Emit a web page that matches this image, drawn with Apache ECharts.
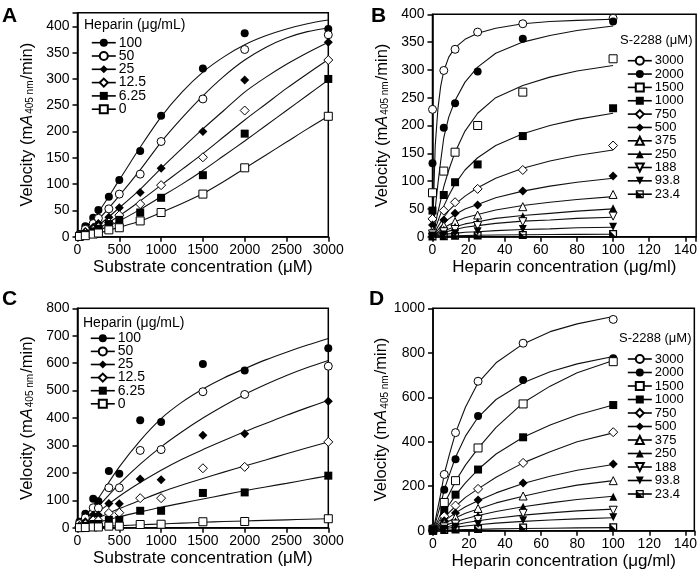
<!DOCTYPE html>
<html><head><meta charset="utf-8">
<script src="https://cdn.jsdelivr.net/npm/echarts/dist/echarts.min.js"></script>
<style>html,body{margin:0;padding:0;background:#fff}#c{width:700px;height:572px}</style>
</head><body><div id="c"></div><script>
// ---------- DATA ----------
// Panels A / C : x = substrate concentration (µM)
const substrateX = [23.4, 93.8, 188, 250, 375, 500, 750, 1000, 1500, 2000, 3000];
const heparinNames = ['100', '50', '25', '12.5', '6.25', '0'];
const A_v100 = [5, 20, 36, 51, 76, 108, 163, 230, 320, 387, 395];
const A_v50 = [3, 14, 25, 35, 53, 81, 119, 181, 262, 356, 384];
const A_v25 = [2, 10, 18, 25, 37, 55, 84, 130, 200, 298, 370];
const A_v12_5 = [1, 7, 13, 18, 27, 41, 62, 98, 151, 240, 336];
const A_v6_25 = [1, 5, 10, 15, 24, 32, 46, 74, 117, 196, 300];
const A_v0 = [0.5, 2, 5, 7, 13, 17, 30, 46, 81, 131, 229];
// fitted curves read at every 250 µM
const curveSubX = [0, 250, 500, 750, 1000, 1250, 1500, 1750, 2000, 2250, 2500, 2750, 3000];
const A_c100 = [0, 47, 108, 170, 228, 275, 313, 342, 365, 382, 395, 405, 412];
const A_c50 = [0, 33, 78, 127, 180, 226, 268, 305, 336, 360, 378, 390, 397];
const A_c25 = [0, 22, 55, 90, 130, 168, 205, 240, 275, 303, 328, 350, 370];
const A_c12_5 = [0, 16, 40, 68, 98, 128, 158, 190, 222, 252, 282, 310, 337];
const A_c6_25 = [0, 12, 30, 52, 76, 100, 126, 154, 182, 211, 240, 269, 298];
const A_c0 = [0, 7, 18, 30, 46, 63, 82, 105, 130, 155, 180, 205, 229];

const C_v100 = [22, 51, 106, 97, 207, 197, 392, 386, 597, 573, 654];
const C_v50 = [15, 36, 73, 72, 146, 146, 282, 285, 496, 486, 589];
const C_v25 = [8, 22, 47, 47, 89, 88, 178, 175, 337, 343, 461];
const C_v12_5 = [5, 13, 27, 27, 54, 55, 108, 108, 217, 222, 313];
const C_v6_25 = [3, 7, 14, 14, 29, 29, 62, 62, 127, 129, 190];
const C_v0 = [0.5, 1, 3, 3, 6, 6, 12, 13, 22, 23, 33];
const C_c100 = [0, 108, 222, 318, 398, 458, 506, 546, 580, 612, 640, 666, 690];
const C_c50 = [0, 78, 160, 232, 295, 350, 400, 445, 486, 522, 555, 584, 610];
const C_c25 = [0, 58, 115, 165, 210, 250, 285, 318, 350, 380, 410, 438, 465];
const C_c12_5 = [0, 36, 70, 100, 130, 156, 180, 203, 225, 247, 270, 292, 313];
const C_c6_25 = [0, 20, 40, 58, 75, 90, 105, 120, 135, 149, 162, 176, 190];
const C_c0 = [0, 4, 8, 11, 14, 17, 20, 23, 25, 27, 29, 31, 33];

// Panels B / D : x = heparin concentration (µg/ml)
const heparinX = [0, 6.25, 12.5, 25, 50, 100];
const s2288Names = ['3000', '2000', '1500', '1000', '750', '500', '375', '250', '188', '93.8', '23.4'];
const B_vals = [
  [229, 299, 337, 368, 383, 393],
  [132, 196, 240, 297, 356, 387],
  [79, 118, 152, 200, 260, 320],
  [47, 75, 98, 130, 181, 231],
  [32, 47, 62, 86, 120, 164],
  [21, 30, 42, 57, 82, 109],
  [12, 20, 27, 39, 54, 76],
  [8, 13, 18, 27, 37, 51],
  [5, 9, 13, 20, 27, 37],
  [2, 4, 6, 10, 14, 18],
  [0.5, 1, 1.5, 2, 3, 5]
];
// fitted curves read at these heparin concentrations
const curveHepX = [0, 1.5, 3, 4.5, 6.25, 9, 12.5, 18, 25, 35, 50, 65, 80, 100];
const B_curves = [
  [0, 163, 230, 270, 298, 323, 340, 355, 366, 375, 383, 387, 389, 391],
  [0, 50, 95, 135, 178, 215, 245, 278, 305, 330, 350, 362, 371, 379],
  [0, 22, 44, 65, 90, 120, 152, 190, 222, 250, 272, 287, 298, 308],
  [0, 14, 28, 41, 55, 74, 95, 120, 142, 164, 185, 200, 211, 222],
  [0, 9, 18, 26, 35, 47, 58, 73, 88, 105, 123, 136, 146, 156],
  [0, 6, 12, 18, 24, 32, 40, 50, 58, 70, 82, 91, 98, 105],
  [0, 4, 8, 12, 16, 21, 27, 34, 40, 48, 56, 62, 67, 72],
  [0, 3, 6, 8, 11, 14, 18, 23, 27, 33, 38, 42, 46, 50],
  [0, 2, 4, 6, 8, 10, 13, 17, 20, 24, 28, 30, 33, 35],
  [0, 1, 2, 3, 4, 5, 6, 8, 9, 11, 13, 14, 16, 17],
  [0, 0.3, 0.5, 0.8, 1, 1.2, 1.5, 2, 2.5, 3, 3.5, 4, 4.2, 4.5]
];
const D_vals = [
  [10, 253, 441, 672, 843, 950],
  [8, 184, 321, 516, 678, 775],
  [6, 127, 225, 372, 570, 760],
  [5, 90, 162, 275, 420, 565],
  [4, 65, 113, 188, 305, 443],
  [3, 45, 80, 138, 215, 300],
  [2, 33, 60, 100, 156, 225],
  [2, 24, 42, 70, 108, 153],
  [1, 17, 30, 50, 78, 92],
  [1, 9, 18, 30, 47, 60],
  [0, 3, 5, 8, 14, 16]
];
const D_curves = [
  [0, 55, 115, 175, 255, 340, 440, 555, 665, 755, 840, 895, 930, 963],
  [0, 40, 82, 125, 185, 250, 330, 425, 510, 590, 665, 715, 750, 783],
  [0, 25, 52, 82, 122, 165, 222, 295, 370, 465, 575, 650, 710, 765],
  [0, 19, 38, 58, 88, 118, 160, 215, 275, 345, 420, 475, 520, 565],
  [0, 13, 27, 41, 60, 82, 110, 150, 188, 240, 305, 355, 400, 440],
  [0, 10, 20, 30, 44, 60, 80, 108, 135, 170, 212, 245, 272, 298],
  [0, 7, 15, 22, 32, 44, 58, 78, 98, 125, 155, 182, 205, 225],
  [0, 5, 10, 15, 22, 30, 40, 54, 68, 86, 108, 125, 140, 155],
  [0, 3.5, 7, 10, 15, 20, 27, 36, 45, 56, 70, 80, 89, 97],
  [0, 2, 4, 6, 9, 12, 16, 21, 27, 34, 42, 48, 53, 58],
  [0, 0.5, 1, 1.5, 2, 3, 4, 5, 6, 8, 10, 11, 12.5, 14]
];

// ---------- STYLE ----------
const FONT = '"Liberation Sans", Arial, Helvetica, sans-serif';
const HALF_SQ = 'path://M0,0 L10,0 L10,10 L0,10 Z M1.6,1.6 L1.6,8.4 L8.4,8.4 L8.4,1.6 Z M1.6,8.4 L1.6,1.6 L8.4,8.4 Z';
const hepSym = [
  {symbol: 'circle', size: 8, open: false},
  {symbol: 'circle', size: 8, open: true},
  {symbol: 'diamond', size: 9, open: false},
  {symbol: 'diamond', size: 9, open: true},
  {symbol: 'rect', size: 8, open: false},
  {symbol: 'rect', size: 8, open: true}
];
const sSym = [
  {symbol: 'circle', size: 8, open: true},
  {symbol: 'circle', size: 8, open: false},
  {symbol: 'rect', size: 8, open: true},
  {symbol: 'rect', size: 8, open: false},
  {symbol: 'diamond', size: 9, open: true},
  {symbol: 'diamond', size: 9, open: false},
  {symbol: 'triangle', size: 8, open: true},
  {symbol: 'triangle', size: 8, open: false},
  {symbol: 'triangle', size: 8, open: true, rotate: 180},
  {symbol: 'triangle', size: 8, open: false, rotate: 180},
  {symbol: HALF_SQ, size: 8, open: false}
];

function pointSeries(name, gi, xs, ys, sym) {
  return {
    type: 'line', name: name, xAxisIndex: gi, yAxisIndex: gi,
    data: xs.map((x, i) => [x, ys[i]]),
    symbol: sym.symbol, symbolSize: sym.size, symbolRotate: sym.rotate || 0,
    showAllSymbol: true,
    itemStyle: sym.open ? {color: '#fff', borderColor: '#000', borderWidth: 1}
                        : {color: '#000', borderColor: '#000', borderWidth: 0},
    lineStyle: {opacity: 0, width: 0},
    z: 4, silent: true, clip: false
  };
}
function curveSeries(gi, xs, ys, id, smooth) {
  return {
    type: 'line', name: '_c' + id, xAxisIndex: gi, yAxisIndex: gi,
    data: xs.map((x, i) => [x, ys[i]]),
    symbol: 'none', smooth: smooth,
    lineStyle: {color: '#111', width: 1.1},
    z: 3, silent: true
  };
}

const series = [];
const A_pts = [A_v100, A_v50, A_v25, A_v12_5, A_v6_25, A_v0];
const A_cur = [A_c100, A_c50, A_c25, A_c12_5, A_c6_25, A_c0];
const C_pts = [C_v100, C_v50, C_v25, C_v12_5, C_v6_25, C_v0];
const C_cur = [C_c100, C_c50, C_c25, C_c12_5, C_c6_25, C_c0];
heparinNames.forEach((n, i) => {
  series.push(curveSeries(0, curveSubX, A_cur[i], 'A' + i, 0.3));
  series.push(pointSeries(n, 0, substrateX, A_pts[i], hepSym[i]));
  series.push(curveSeries(2, curveSubX, C_cur[i], 'C' + i, 0.3));
  series.push(pointSeries(n, 2, substrateX, C_pts[i], hepSym[i]));
});
s2288Names.forEach((n, i) => {
  series.push(curveSeries(1, curveHepX, B_curves[i], 'B' + i, false));
  series.push(pointSeries(n, 1, heparinX, B_vals[i], sSym[i]));
  series.push(curveSeries(3, curveHepX, D_curves[i], 'D' + i, false));
  series.push(pointSeries(n, 3, heparinX, D_vals[i], sSym[i]));
});

const tickFont = {fontSize: 14, fontFamily: FONT, color: '#000'};
const axisLine = {show: true, lineStyle: {color: '#000', width: 1.5}};
const axisTick = {show: true, inside: false, length: 5, lineStyle: {color: '#000', width: 1.5}};
const yName = '{n|Velocity (m}{i|A}{s|405 nm}{n|/min)}';
const yNameStyle = {
  color: '#000',
  rich: {
    n: {fontSize: 16.5, fontFamily: FONT, color: '#000'},
    i: {fontSize: 16.5, fontFamily: FONT, fontStyle: 'italic', color: '#000'},
    s: {fontSize: 10, fontFamily: FONT, color: '#000', verticalAlign: 'bottom', padding: [7, 1, 0, 1]}
  }
};
const xNameStyle = {fontSize: 17, fontFamily: FONT, color: '#000'};

function xAx(gi, max, interval, name, step) {
  return {
    type: 'value', gridIndex: gi, min: 0, max: max, interval: interval,
    name: name, nameLocation: 'middle', nameGap: 22, nameTextStyle: xNameStyle,
    axisLine: axisLine, axisTick: axisTick, splitLine: {show: false},
    axisLabel: Object.assign({margin: 6, formatter: v => (v % step === 0 ? String(v) : '')}, tickFont)
  };
}
function yAx(gi, max, interval, step, gap) {
  return {
    type: 'value', gridIndex: gi, min: 0, max: max, interval: interval,
    name: yName, nameLocation: 'middle', nameGap: gap, nameTextStyle: yNameStyle,
    axisLine: axisLine, axisTick: axisTick, splitLine: {show: false},
    axisLabel: Object.assign({margin: 8, formatter: v => (v % step === 0 ? String(v) : '')}, tickFont)
  };
}

// one legend component per row so that every row sits at an exact height
function legendRows(names, left, firstCenter, spacing, fs) {
  return names.map((n, i) => ({
    data: [n], orient: 'vertical', left: left, top: firstCenter + i * spacing - fs / 2, padding: 0,
    itemWidth: 24, itemHeight: 10, itemGap: 0, selectedMode: false,
    textStyle: {fontSize: fs, fontFamily: FONT, color: '#000', padding: [0, 0, 0, -2]},
    lineStyle: {color: '#000', width: 1.6, opacity: 1}
  }));
}

function txt(x, y, s, fs, bold) {
  return {type: 'text', x: x, y: y, silent: true,
    style: {text: s, font: (bold ? 'bold ' : '') + fs + 'px ' + FONT, fill: '#000', verticalAlign: 'middle', align: 'left'}};
}

const gridStyle = {show: true, borderColor: '#000', borderWidth: 1.5, backgroundColor: 'transparent'};
const option = {
  animation: false,
  backgroundColor: '#fff',
  grid: [
    Object.assign({left: 77.5, top: 12.7, width: 250.8, height: 224}, gridStyle),
    Object.assign({left: 432.5, top: 14.3, width: 265.3, height: 222.4}, gridStyle),
    Object.assign({left: 77.5, top: 308.3, width: 250.8, height: 219.5}, gridStyle),
    Object.assign({left: 433, top: 308.3, width: 264, height: 222.4}, gridStyle)
  ],
  xAxis: [
    xAx(0, 3000, 500, 'Substrate concentration (μM)', 500),
    xAx(1, 146, 20, 'Heparin concentration (μg/ml)', 20),
    xAx(2, 3000, 500, 'Substrate concentration (μM)', 500),
    xAx(3, 145, 20, 'Heparin concentration (μg/ml)', 20)
  ],
  yAxis: [
    yAx(0, 426, 50, 50, 42),
    yAx(1, 400, 50, 50, 42),
    yAx(2, 800, 100, 100, 42),
    yAx(3, 1000, 200, 200, 43)
  ],
  legend: [].concat(
    legendRows(heparinNames, 91, 42.7, 13.3, 14),
    legendRows(s2288Names, 627, 60.7, 13.35, 13),
    legendRows(heparinNames, 90, 338.3, 13.1, 14),
    legendRows(s2288Names, 627, 359, 13.5, 13)
  ),
  graphic: [
    txt(2, 16, 'A', 21, true),
    txt(371, 16, 'B', 21, true),
    txt(2, 299, 'C', 21, true),
    txt(369, 299, 'D', 21, true),
    txt(84, 25, 'Heparin (μg/mL)', 14, false),
    txt(83, 323, 'Heparin (μg/mL)', 14, false),
    txt(620, 40, 'S-2288 (μM)', 13, false),
    txt(619, 338, 'S-2288 (μM)', 13, false)
  ],
  series: series
};
const chart = echarts.init(document.getElementById('c'), null, {renderer: 'canvas'});
chart.setOption(option);
</script></body></html>
